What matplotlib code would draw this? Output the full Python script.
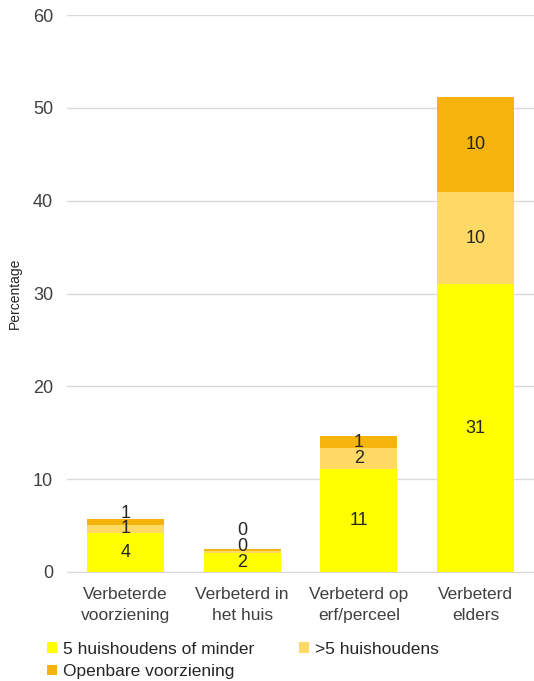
import matplotlib
matplotlib.use("Agg")
import matplotlib.pyplot as plt
import numpy as np
from matplotlib.patches import Patch

categories = ["Verbeterde\nvoorziening", "Verbeterd in\nhet huis", "Verbeterd op\nerf/perceel", "Verbeterd\nelders"]
series_names = ["5 huishoudens of minder", ">5 huishoudens", "Openbare voorziening"]
small = [4.2, 2.1, 11.1, 31.0]
large = [0.9, 0.2, 2.3, 9.9]
public = [0.6, 0.2, 1.2, 10.3]
colors = ["#FFFF00", "#FFD966", "#F4B40C"]
yticks = [0, 10, 20, 30, 40, 50, 60]

plt.rcParams['font.family'] = ['Liberation Sans', 'DejaVu Sans']

fig = plt.figure(figsize=(5.34, 6.81), dpi=100)
ax = fig.add_axes([67/534, 109/681, 467/534, 557/681])

x = np.arange(len(categories))
bottom = np.zeros(len(categories))
last_label = np.full(len(categories), -10.0)
min_gap = 1.7
for vals, col in zip([small, large, public], colors):
    vals = np.array(vals)
    ax.bar(x, vals, bottom=bottom, width=0.66, color=col, zorder=3)
    for i, (xi, b, v) in enumerate(zip(x, bottom, vals)):
        yc = max(b + v / 2, last_label[i] + min_gap)
        last_label[i] = yc
        ax.text(xi, yc, f"{v:.0f}", ha="center", va="center",
                fontsize=13, color="#262626", zorder=4)
    bottom += vals

ax.set_xlim(-0.5, 3.5)
ax.set_ylim(0, 60)
ax.set_yticks(yticks)
ax.set_yticklabels([str(t) for t in yticks], fontsize=13, color="#404040")
ax.set_xticks(x)
ax.set_xticklabels(categories, fontsize=12.5, color="#404040", linespacing=1.45)
ax.tick_params(axis="y", length=0, pad=10)
ax.tick_params(axis="x", length=0, pad=11)
ax.yaxis.grid(True, color="#D9D9D9", linewidth=1, zorder=0)
for s in ["top", "right", "left"]:
    ax.spines[s].set_visible(False)
ax.spines["bottom"].set_color("#D9D9D9")
ax.set_ylabel("Percentage", fontsize=10, color="#262626", labelpad=8)

order = [0, 2, 1]
handles = [Patch(facecolor=colors[k], edgecolor="none") for k in order]
labels = [series_names[k] for k in order]
fig.legend(handles, labels, ncol=2, loc="upper left",
           bbox_to_anchor=(0.088, 0.058), frameon=False, fontsize=12.5,
           handlelength=0.55, handleheight=0.55, handletextpad=0.35,
           columnspacing=2.6, labelspacing=0.45, labelcolor="#262626",
           borderaxespad=0, borderpad=0)

fig.savefig("out.png", dpi=100)
